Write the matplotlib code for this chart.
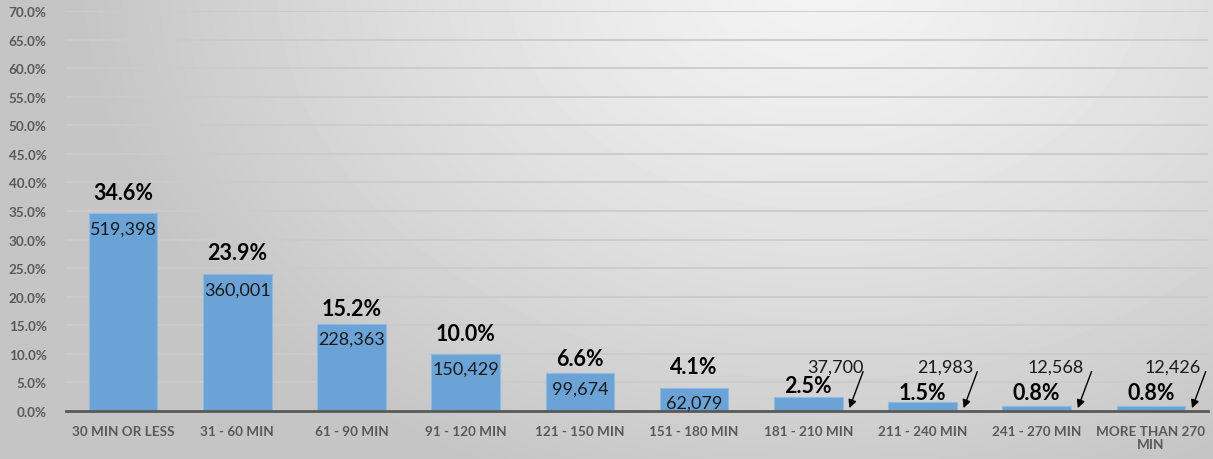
import numpy as np
import matplotlib
matplotlib.use("Agg")
import matplotlib.pyplot as plt
from matplotlib.ticker import PercentFormatter

categories = ["30 MIN OR LESS", "31 - 60 MIN", "61 - 90 MIN", "91 - 120 MIN",
              "121 - 150 MIN", "151 - 180 MIN", "181 - 210 MIN", "211 - 240 MIN",
              "241 - 270 MIN", "MORE THAN 270\nMIN"]
percent = [34.6, 23.9, 15.2, 10.0, 6.6, 4.1, 2.5, 1.5, 0.8, 0.8]
counts = [519398, 360001, 228363, 150429, 99674, 62079, 37700, 21983, 12568, 12426]

# label placement (style, in axis % units)
pct_label_offset = [3.65, 3.8, 2.7, 3.5, 2.6, 3.7, 2.0, 1.8, 2.5, 2.5]
callout_dx = [0, 0, 0, 0, 0, 0, 0.24, 0.2, 0.17, 0.19]

plt.rcParams['font.family'] = ['Lato', 'DejaVu Sans']

W, H = 1213, 460
fig = plt.figure(figsize=(W / 100, H / 100), dpi=100)

# radial gradient background
bg = fig.add_axes([0, 0, 1, 1], zorder=-10)
yy, xx = np.mgrid[0:H, 0:W]
cx, cy = 0.68 * W, -0.05 * H
d = np.sqrt(((xx - cx) / (0.62 * W)) ** 2 + ((yy - cy) / (1.2 * H)) ** 2)
d = np.clip(d, 0, 1)
light, dark = 0.955, 0.77
img = light - (light - dark) * d ** 1.3
bg.imshow(img, cmap='gray', vmin=0, vmax=1, aspect='auto', extent=[0, 1, 0, 1])
bg.axis('off')

ax = fig.add_axes([66 / W, 1 - 412 / H, 1142 / W, 400 / H])
ax.patch.set_alpha(0)
x = np.arange(len(categories))
ax.bar(x, percent, width=0.6, color='#6ca3d6', edgecolor='#8fbbe3', linewidth=0.8, zorder=3)

ax.set_xlim(-0.5, len(categories) - 0.5)
ax.set_ylim(0, 70)
ax.set_yticks(np.arange(0, 70.1, 5))
ax.yaxis.set_major_formatter(PercentFormatter(decimals=1))
ax.grid(axis='y', color='#cbcbcb', linewidth=1.3, zorder=0)
for s in ['top', 'right', 'left']:
    ax.spines[s].set_visible(False)
ax.spines['bottom'].set_color('#595959')
ax.spines['bottom'].set_linewidth(2)
ax.spines['bottom'].set_zorder(4)
ax.tick_params(axis='both', length=0, colors='#595959', labelsize=9.7)
ax.tick_params(axis='y', pad=14)
ax.tick_params(axis='x', pad=10)
ax.set_xticks(x)
ax.set_xticklabels(categories, fontweight='bold', linespacing=1.1)
for lab in ax.get_yticklabels():
    lab.set_fontweight('bold')

for i, (p, c) in enumerate(zip(percent, counts)):
    ax.text(i, p + pct_label_offset[i], f"{p:.1f}%", ha='center', va='center',
            fontsize=15.5, fontweight='bold', color='black', zorder=5)
    if p > 4:
        ax.text(i, p - 2.6, f"{c:,}", ha='center', va='center', fontsize=13,
                color='#1a1a1a', zorder=5)
    else:
        ax.text(i + callout_dx[i], 7.8, f"{c:,}", ha='center', va='center',
                fontsize=13, color='#1a1a1a', zorder=5)
        ax.annotate("", xy=(i + 0.36, 0.5), xytext=(i + 0.48, 6.9),
                    arrowprops=dict(arrowstyle='-|>', color='black', lw=1.0,
                                    mutation_scale=12, shrinkA=0, shrinkB=0),
                    zorder=5)

fig.savefig("out.png", dpi=100)
